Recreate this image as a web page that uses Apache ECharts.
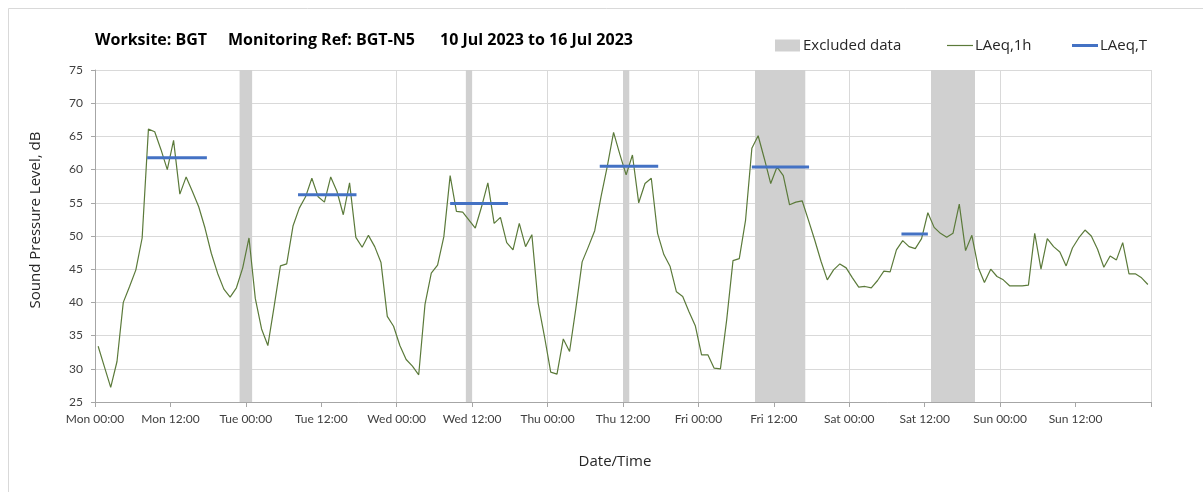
<!DOCTYPE html>
<html>
<head>
<meta charset="utf-8">
<script src="https://cdn.jsdelivr.net/npm/echarts@6/dist/echarts.min.js"></script>
<style>
html,body{margin:0;padding:0;background:#fff;}
#chart{width:1203px;height:492px;}
</style>
</head>
<body>
<div id="chart"></div>
<script>
// ---- Data ----
const titleParts = ['Worksite: BGT', 'Monitoring Ref: BGT-N5', '10 Jul 2023 to 16 Jul 2023'];
const xAxisTitle = 'Date/Time';
const yAxisTitle = 'Sound Pressure Level, dB';
const tickLabels = ['Mon 00:00','Mon 12:00','Tue 00:00','Tue 12:00','Wed 00:00','Wed 12:00','Thu 00:00','Thu 12:00','Fri 00:00','Fri 12:00','Sat 00:00','Sat 12:00','Sun 00:00','Sun 12:00'];
// hourly LAeq,1h values (dB), one per hour starting Mon 00:00
const laeq1h = [
  33.4,30.3,27.2,31.1,40.0,42.4,44.9,49.7,66.1,65.7,63.0,60.0,64.4,56.3,58.9,56.7,54.4,51.2,47.4,44.4,42.0,40.8,42.2,45.2,
  49.7,40.6,36.0,33.5,39.4,45.5,45.8,51.5,54.2,55.9,58.7,55.9,55.1,58.9,56.7,53.2,58.0,49.8,48.3,50.1,48.4,46.0,37.9,36.4,
  33.5,31.4,30.4,29.1,39.7,44.4,45.6,49.9,59.1,53.7,53.6,52.4,51.2,54.4,58.0,51.9,52.8,49.0,47.9,51.9,48.4,50.2,39.9,34.9,
  29.5,29.2,34.5,32.6,39.1,46.1,48.4,50.8,55.9,60.5,65.6,62.3,59.2,62.2,55.0,57.9,58.7,50.4,47.2,45.4,41.6,40.9,38.6,36.5,
  32.1,32.1,30.1,30.0,37.4,46.3,46.6,52.4,63.2,65.1,61.6,57.9,60.4,59.1,54.7,55.1,55.3,52.4,49.4,46.2,43.4,44.9,45.8,45.2,
  43.7,42.3,42.4,42.2,43.3,44.7,44.6,47.9,49.3,48.4,48.1,49.6,53.5,51.3,50.4,49.8,50.4,54.8,47.8,50.1,45.3,43.0,45.0,43.9,
  43.4,42.5,42.5,42.5,42.6,50.4,45.0,49.6,48.4,47.6,45.5,48.2,49.7,50.9,50.0,48.0,45.3,47.0,46.4,49.0,44.3,44.3,43.7,42.7
];
// LAeq,T periods (hours from Mon 00:00) and levels (dB)
const laeqTStart = [8.3, 32.3, 56.5, 80.3, 104.5, 128.3];
const laeqTEnd   = [17.8, 41.6, 65.7, 89.6, 113.6, 132.5];
const laeqTLevel = [61.8, 56.2, 54.9, 60.5, 60.4, 50.3];
// Excluded data periods (hours from Mon 00:00)
const excludedStart = [23, 59, 84, 105, 133];
const excludedEnd   = [25, 60, 85, 113, 140];

// ---- Build ----
const font = '"Open Sans", Lato, sans-serif';
const tickFont = 'Lato, "Open Sans", sans-serif';
const lineData = laeq1h.map((v, i) => [i + 0.5, v]);
const excludedAreas = excludedStart.map((s, i) => [{xAxis: s}, {xAxis: excludedEnd[i]}]);
const tSeries = laeqTStart.map((s, i) => ({
  name: 'LAeq,T', type: 'line', symbol: 'none', z: 4,
  color: '#4472c4', lineStyle: {color: '#4472c4', width: 3},
  data: [[s, laeqTLevel[i]], [laeqTEnd[i], laeqTLevel[i]]], silent: true
}));
const titleX = [95, 228, 440];

const chart = echarts.init(document.getElementById('chart'), null, {renderer: 'canvas'});
chart.setOption({
  animation: false,
  backgroundColor: '#fff',
  graphic: [
    {type: 'rect', shape: {x: 8.5, y: 8.5, width: 1200, height: 490}, style: {fill: 'none', stroke: '#d9d9d9', lineWidth: 1}, silent: true},
    ...titleParts.map((t, i) => ({type: 'text', left: titleX[i], top: 32, silent: true,
      style: {text: t, fontFamily: font, fontSize: 16, fontWeight: 'bold', fill: '#000'}})),
    {type: 'text', x: 36, y: 220, rotation: Math.PI / 2, silent: true,
     style: {text: yAxisTitle, fontFamily: font, fontSize: 15, fill: '#262626', align: 'center', verticalAlign: 'middle'}},
    {type: 'text', x: 615, y: 462, silent: true,
     style: {text: xAxisTitle, fontFamily: font, fontSize: 15, fill: '#262626', align: 'center', verticalAlign: 'middle'}}
  ],
  legend: [
    {data: [{name: 'Excluded data', icon: 'rect'}], left: 775, top: 38, padding: 0, itemWidth: 25, itemHeight: 12, itemGap: 0,
     textStyle: {fontFamily: font, fontSize: 15, color: '#262626', padding: [0, 0, 0, -2]}},
    {data: [{name: 'LAeq,1h', icon: 'rect'}], left: 947, top: 38, padding: 0, itemWidth: 26, itemHeight: 1.2,
     textStyle: {fontFamily: font, fontSize: 15, color: '#262626', padding: [0, 0, 0, -3]}},
    {data: [{name: 'LAeq,T', icon: 'rect'}], left: 1072, top: 38, padding: 0, itemWidth: 26, itemHeight: 3,
     textStyle: {fontFamily: font, fontSize: 15, color: '#262626', padding: [0, 0, 0, -3]}}
  ],
  grid: {left: 95, right: 52, top: 70, bottom: 90, containLabel: false},
  xAxis: [
    {type: 'value', min: 0, max: 168, interval: 12,
     axisLine: {lineStyle: {color: '#a6a6a6'}},
     axisTick: {show: true, length: 5, lineStyle: {color: '#a6a6a6'}},
     axisLabel: {fontFamily: tickFont, fontSize: 12, color: '#404040', margin: 11,
       formatter: v => tickLabels[v / 12] || ''},
     splitLine: {show: false}},
    {type: 'value', min: 0, max: 168, interval: 24, position: 'bottom',
     axisLine: {show: false}, axisTick: {show: false}, axisLabel: {show: false},
     splitLine: {show: true, lineStyle: {color: '#d9d9d9', width: 1}}}
  ],
  yAxis: {
    type: 'value', min: 25, max: 75, interval: 5,
    axisLine: {show: true, lineStyle: {color: '#a6a6a6'}},
    axisTick: {show: true, length: 4, lineStyle: {color: '#a6a6a6'}},
    axisLabel: {fontFamily: tickFont, fontSize: 12, color: '#404040', margin: 12},
    splitLine: {show: true, lineStyle: {color: '#d9d9d9', width: 1}}
  },
  series: [
    {name: 'Excluded data', type: 'line', data: [], color: '#d0d0d0', symbol: 'none', z: 1,
     markArea: {silent: true, itemStyle: {color: '#d0d0d0', opacity: 1}, data: excludedAreas}},
    {name: 'LAeq,1h', type: 'line', data: lineData, symbol: 'none', z: 3, color: '#5b7a3a',
     lineStyle: {color: '#5b7a3a', width: 1.2}, silent: true},
    ...tSeries
  ]
});
</script>
</body>
</html>
